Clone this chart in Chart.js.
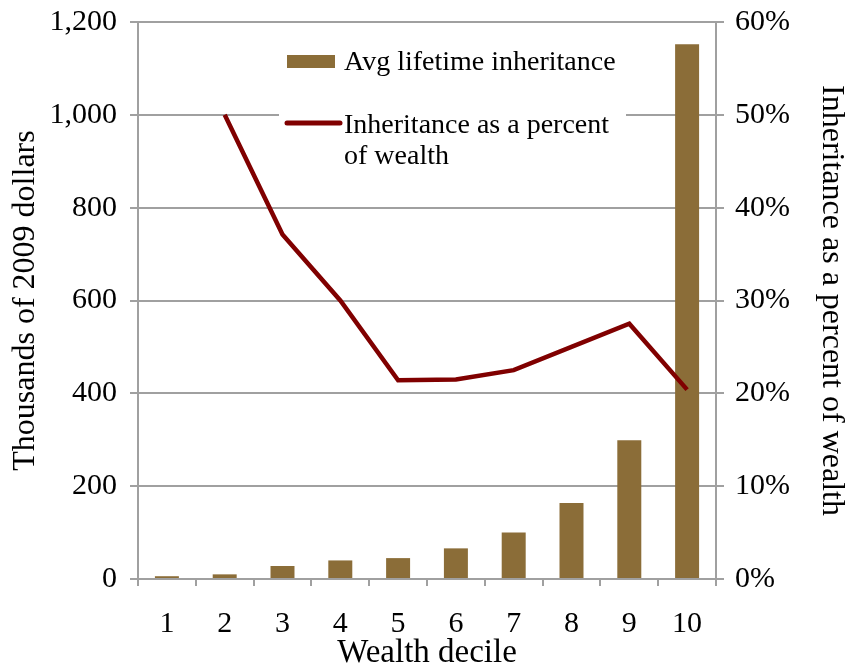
<!DOCTYPE html>
<html>
<head>
  <title>Inheritance by wealth decile</title>
  <script src="https://cdn.jsdelivr.net/npm/chart.js"></script>
  <style>
    html, body { margin: 0; padding: 0; background: #fff; }
    #wrap { width: 848px; height: 667px; }
  </style>
</head>
<body>
  <div id="wrap"><canvas id="chart" width="848" height="667"></canvas></div>
  <script>
    const deciles = ['1', '2', '3', '4', '5', '6', '7', '8', '9', '10'];
    const avgInheritance = [6, 10, 28, 40, 45, 66, 100, 164, 299, 1152];
    const pctOfWealth = [null, 50, 37.1, 30, 21.4, 21.5, 22.5, 25, 27.5, 20.4];

    const SERIF = '"Liberation Serif", "Times New Roman", serif';
    const GRID = '#a0a0a0';
    const BAR = '#8b6d38';
    const LINE = '#800000';

    // legend drawn inside the plot area, on a white box
    const boxLegend = {
      id: 'boxLegend',
      afterDraw(chart) {
        const ctx = chart.ctx;
        ctx.save();
        ctx.fillStyle = '#fff';
        ctx.fillRect(279, 36, 347, 140);
        ctx.fillStyle = BAR;
        ctx.fillRect(287, 55, 48, 13);
        ctx.strokeStyle = LINE;
        ctx.lineWidth = 5;
        ctx.lineCap = 'round';
        ctx.beginPath();
        ctx.moveTo(287, 123);
        ctx.lineTo(340, 123);
        ctx.stroke();
        ctx.fillStyle = '#000';
        ctx.font = '28px ' + SERIF;
        ctx.textBaseline = 'alphabetic';
        ctx.fillText(chart.data.datasets[1].label, 344, 70);
        ctx.fillText('Inheritance as a percent', 344, 133);
        ctx.fillText('of wealth', 344, 164);
        ctx.restore();
      }
    };

    // fixed axis sizes so the plot area sits where the original has it
    function fixY(width) {
      return s => { s.width = width; s.paddingTop = 0; s.paddingBottom = 0; };
    }

    new Chart(document.getElementById('chart'), {
      type: 'bar',
      data: {
        labels: deciles,
        datasets: [
          {
            type: 'line',
            label: 'Inheritance as a percent of wealth',
            data: pctOfWealth,
            yAxisID: 'y1',
            borderColor: LINE,
            borderWidth: 4.5,
            pointRadius: 0,
            tension: 0,
            order: 0
          },
          {
            label: 'Avg lifetime inheritance',
            data: avgInheritance,
            yAxisID: 'y',
            backgroundColor: BAR,
            barPercentage: 0.415,
            categoryPercentage: 1,
            order: 1
          }
        ]
      },
      plugins: [boxLegend],
      options: {
        responsive: false,
        animation: false,
        layout: { padding: { top: 22, left: 0, right: 0, bottom: 0 } },
        plugins: {
          legend: { display: false },
          tooltip: { enabled: false }
        },
        scales: {
          x: {
            grid: {
              offset: true,
              drawOnChartArea: false,
              color: GRID,
              lineWidth: 2,
              tickLength: 7
            },
            border: { color: GRID, width: 2 },
            ticks: { color: '#000', font: { family: SERIF, size: 30 }, padding: 20 },
            title: {
              display: true,
              text: 'Wealth decile',
              color: '#000',
              font: { family: SERIF, size: 33, lineHeight: 0.8 },
              padding: { top: 0, bottom: 0 }
            },
            afterFit(s) { s.height = 88; s.paddingLeft = 0; s.paddingRight = 0; }
          },
          y: {
            position: 'left',
            min: 0,
            max: 1200,
            ticks: {
              stepSize: 200,
              color: '#000',
              font: { family: SERIF, size: 30 },
              padding: 13,
              callback: v => v.toLocaleString('en-US')
            },
            grid: { color: GRID, lineWidth: 2, tickLength: 8 },
            border: { color: GRID, width: 2 },
            title: {
              display: true,
              text: 'Thousands of 2009 dollars',
              color: '#000',
              font: { family: SERIF, size: 32, lineHeight: 1 },
              padding: { top: 10, bottom: 0 }
            },
            afterFit: fixY(138)
          },
          y1: {
            position: 'right',
            min: 0,
            max: 60,
            ticks: {
              stepSize: 10,
              color: '#000',
              font: { family: SERIF, size: 30 },
              padding: 11,
              callback: v => v + '%'
            },
            grid: { drawOnChartArea: false, color: GRID, lineWidth: 2, tickLength: 8 },
            border: { color: GRID, width: 2 },
            title: {
              display: true,
              text: 'Inheritance as a percent of wealth',
              color: '#000',
              font: { family: SERIF, size: 32, lineHeight: 1 },
              padding: { top: 1, bottom: 0 }
            },
            afterFit: fixY(132)
          }
        }
      }
    });
  </script>
</body>
</html>
